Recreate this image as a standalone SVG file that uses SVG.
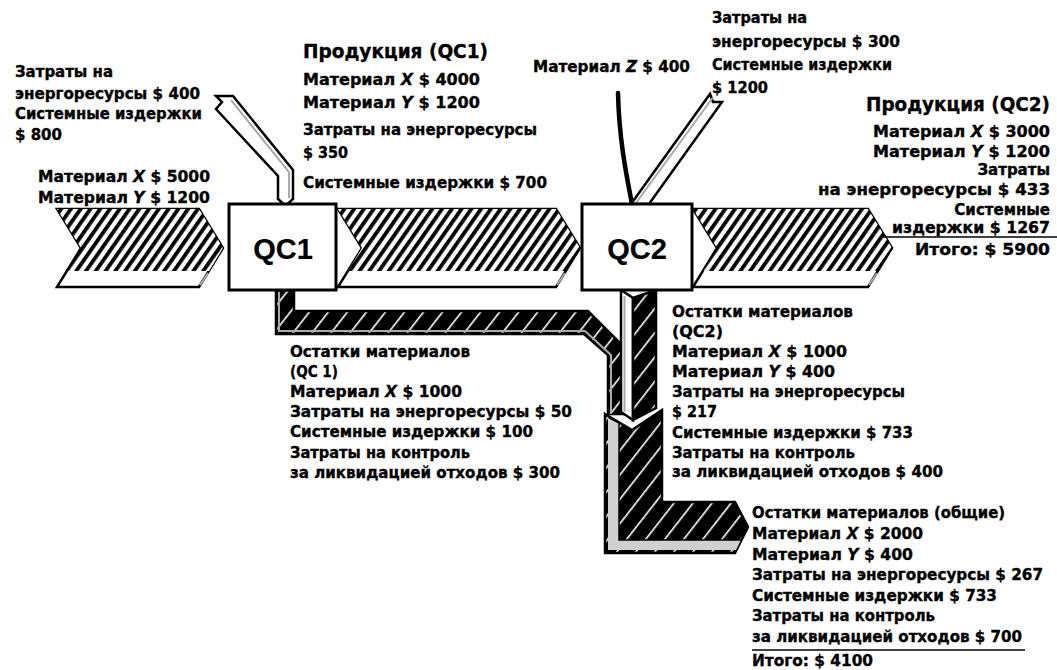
<svg xmlns="http://www.w3.org/2000/svg" width="1057" height="670" viewBox="0 0 1057 670">
<defs>
<pattern id="hatch" width="8" height="8" patternUnits="userSpaceOnUse" patternTransform="rotate(35)">
<rect width="8" height="8" fill="#fff"/>
<rect x="0" y="0" width="3.8" height="8" fill="#000"/>
</pattern>
<pattern id="whatch" width="15" height="15" patternUnits="userSpaceOnUse" patternTransform="rotate(38)">
<rect width="15" height="15" fill="#000"/>
<rect x="0" y="0" width="1.6" height="15" fill="#fff"/>
</pattern>
</defs>
<style>
text{font-family:"DejaVu Sans","Liberation Sans",sans-serif;font-weight:bold;font-size:15px;fill:#000;stroke:#000;stroke-width:0.35}
.h{font-size:19px}
.qc{font-family:"Liberation Sans",Arial,sans-serif;font-size:29px;text-anchor:middle;stroke-width:0.2}
.i{font-style:italic}
.r{text-anchor:end}
.out{fill:#fff;stroke:#000;stroke-width:2.5;stroke-linejoin:miter}
.hz{fill:url(#hatch);stroke:none}
.wb{fill:url(#whatch);stroke:#000;stroke-width:2.5;stroke-linejoin:miter}
.sh{fill:none;stroke:#aaa;stroke-width:2}
.ul{stroke:#000;stroke-width:1.5}
</style>
<rect width="1057" height="670" fill="#fff"/>
<g id="connectors">
<g id="flow-in">
<polygon class="out" points="57,209 199,209 223,248 199,287 57,287 81,248"/>
<polygon class="hz" points="57,209 199,209 223,248 209,271 67,271 81,248"/>
<line class="sh" x1="208" y1="273" x2="200" y2="285"/>
</g>
<g id="flow-mid">
<polygon class="out" points="338,209 556,209 580,248 556,287 338,287 362,248"/>
<polygon class="hz" points="338,209 556,209 580,248 566,271 348,271 362,248"/>
<line class="sh" x1="565" y1="273" x2="557" y2="285"/>
</g>
<g id="flow-out">
<polygon class="out" points="693,209 868,209 892,248 868,287 693,287 717,248"/>
<polygon class="hz" points="693,209 868,209 892,248 878,271 703,271 717,248"/>
<line class="sh" x1="877" y1="273" x2="869" y2="285"/>
</g>
<g id="energy-qc1">
<polygon class="out" points="216,96 233,96 293,170 293,199 285.5,206 278,199 278,176 216,109 222,102"/>
<polyline class="sh" points="231,100 289,172 289,198"/>
</g>
<g id="energy-qc2">
<polygon class="out" points="710,94 713,102 722,102 649,204 631,204"/>
<line class="sh" x1="712.5" y1="98" x2="636" y2="203"/>
</g>
<path id="material-z" d="M618,93 C619,140 627,178 632,204" fill="none" stroke="#000" stroke-width="4.5" stroke-linecap="round"/>
<g id="waste-qc1">
<polygon class="wb" points="276,290 294,290 294,311 588,311 624,347 624,414 608,414 608,355 584,334 276,334"/>
<polyline class="sh" points="279,292 279,331 585,331 611,355 611,414"/>
</g>
<g id="waste-qc2">
<polygon class="out" points="621,290 633,298 633,420 621,412"/>
<line class="sh" x1="624.5" y1="296" x2="624.5" y2="412"/>
<polygon class="wb" points="633,298 656,290 656,408 633,420"/>
</g>
<g id="waste-total">
<polygon class="wb" points="605,414 632,430 662,410 662,502 735,502 748,527 735,553 605,553"/>
<polygon points="608,418 619,424 619,540 741,540 736,550 608,550" fill="#d0d0d0"/>
<polyline points="619,424 619,540 741,540" fill="none" stroke="#000" stroke-width="1.5"/>
</g>
</g>
<g id="QC1">
<rect x="229" y="204" width="107" height="86" fill="#fff" stroke="#000" stroke-width="3"/>
<text class="qc" x="283" y="259">QC1</text>
</g>
<g id="QC2">
<rect x="582" y="204" width="110" height="86" fill="#fff" stroke="#000" stroke-width="3"/>
<text class="qc" x="637" y="259">QC2</text>
</g>
<g id="label-in-energy">
<text x="15" y="77" textLength="98" lengthAdjust="spacingAndGlyphs">Затраты на</text>
<text x="15" y="99" textLength="185" lengthAdjust="spacingAndGlyphs">энергоресурсы $ 400</text>
<text x="15" y="119" textLength="187" lengthAdjust="spacingAndGlyphs">Системные издержки</text>
<text x="15" y="140" textLength="47" lengthAdjust="spacingAndGlyphs">$ 800</text>
</g>
<g id="label-in-material">
<text x="38" y="182" textLength="172" lengthAdjust="spacingAndGlyphs">Материал <tspan class="i">X</tspan> $ 5000</text>
<text x="38" y="203" textLength="172" lengthAdjust="spacingAndGlyphs">Материал <tspan class="i">Y</tspan> $ 1200</text>
</g>
<g id="label-product-qc1">
<text class="h" x="303" y="58" textLength="185" lengthAdjust="spacingAndGlyphs">Продукция (QC1)</text>
<text x="303" y="85" textLength="177" lengthAdjust="spacingAndGlyphs">Материал <tspan class="i">X</tspan> $ 4000</text>
<text x="303" y="108" textLength="177" lengthAdjust="spacingAndGlyphs">Материал <tspan class="i">Y</tspan> $ 1200</text>
<text x="303" y="135" textLength="234" lengthAdjust="spacingAndGlyphs">Затраты на энергоресурсы</text>
<text x="303" y="158" textLength="45" lengthAdjust="spacingAndGlyphs">$ 350</text>
<text x="303" y="188" textLength="244" lengthAdjust="spacingAndGlyphs">Системные издержки $ 700</text>
</g>
<g id="label-material-z">
<text x="533" y="72" textLength="157" lengthAdjust="spacingAndGlyphs">Материал <tspan class="i">Z</tspan> $ 400</text>
</g>
<g id="label-qc2-energy">
<text x="712" y="23" textLength="95" lengthAdjust="spacingAndGlyphs">Затраты на</text>
<text x="712" y="47" textLength="188" lengthAdjust="spacingAndGlyphs">энергоресурсы $ 300</text>
<text x="712" y="70" textLength="180" lengthAdjust="spacingAndGlyphs">Системные издержки</text>
<text x="712" y="93" textLength="56" lengthAdjust="spacingAndGlyphs">$ 1200</text>
</g>
<g id="label-product-qc2">
<text class="h r" x="1050" y="111" textLength="184" lengthAdjust="spacingAndGlyphs">Продукция (QC2)</text>
<text class="r" x="1050" y="137" textLength="177" lengthAdjust="spacingAndGlyphs">Материал <tspan class="i">X</tspan> $ 3000</text>
<text class="r" x="1050" y="157" textLength="177" lengthAdjust="spacingAndGlyphs">Материал <tspan class="i">Y</tspan> $ 1200</text>
<text class="r" x="1050" y="175">Затраты</text>
<text class="r" x="1050" y="195" textLength="232" lengthAdjust="spacingAndGlyphs">на энергоресурсы $ 433</text>
<text class="r" x="1050" y="215">Системные</text>
<text class="r" x="1050" y="233" textLength="158" lengthAdjust="spacingAndGlyphs">издержки $ 1267</text>
<line class="ul" x1="882" y1="237" x2="1057" y2="237"/>
<text class="r" x="1050" y="255" textLength="135" lengthAdjust="spacingAndGlyphs">Итого:  $ 5900</text>
</g>
<g id="label-waste-qc1">
<text x="290" y="357" textLength="180" lengthAdjust="spacingAndGlyphs">Остатки материалов</text>
<text x="290" y="377" textLength="48" lengthAdjust="spacingAndGlyphs">(QC 1)</text>
<text x="290" y="397" textLength="172" lengthAdjust="spacingAndGlyphs">Материал <tspan class="i">X</tspan> $ 1000</text>
<text x="290" y="417" textLength="282" lengthAdjust="spacingAndGlyphs">Затраты на энергоресурсы  $ 50</text>
<text x="290" y="437" textLength="243" lengthAdjust="spacingAndGlyphs">Системные издержки  $ 100</text>
<text x="290" y="458" textLength="180" lengthAdjust="spacingAndGlyphs">Затраты на контроль</text>
<text x="290" y="478" textLength="270" lengthAdjust="spacingAndGlyphs">за ликвидацией отходов  $ 300</text>
</g>
<g id="label-waste-qc2">
<text x="672" y="317" textLength="181" lengthAdjust="spacingAndGlyphs">Остатки материалов</text>
<text x="672" y="337" textLength="51" lengthAdjust="spacingAndGlyphs">(QC2)</text>
<text x="672" y="357" textLength="175" lengthAdjust="spacingAndGlyphs">Материал <tspan class="i">X</tspan> $ 1000</text>
<text x="672" y="377" textLength="163" lengthAdjust="spacingAndGlyphs">Материал <tspan class="i">Y</tspan> $ 400</text>
<text x="672" y="397" textLength="233" lengthAdjust="spacingAndGlyphs">Затраты на энергоресурсы</text>
<text x="672" y="417" textLength="45" lengthAdjust="spacingAndGlyphs">$ 217</text>
<text x="672" y="438" textLength="241" lengthAdjust="spacingAndGlyphs">Системные издержки  $ 733</text>
<text x="672" y="458" textLength="183" lengthAdjust="spacingAndGlyphs">Затраты на контроль</text>
<text x="672" y="477" textLength="271" lengthAdjust="spacingAndGlyphs">за ликвидацией отходов  $ 400</text>
</g>
<g id="label-waste-total">
<text x="752" y="518" textLength="253" lengthAdjust="spacingAndGlyphs">Остатки материалов (общие)</text>
<text x="752" y="539" textLength="171" lengthAdjust="spacingAndGlyphs">Материал <tspan class="i">X</tspan> $ 2000</text>
<text x="752" y="560" textLength="161" lengthAdjust="spacingAndGlyphs">Материал <tspan class="i">Y</tspan> $ 400</text>
<text x="752" y="580" textLength="291" lengthAdjust="spacingAndGlyphs">Затраты на энергоресурсы  $ 267</text>
<text x="752" y="601" textLength="245" lengthAdjust="spacingAndGlyphs">Системные издержки  $ 733</text>
<text x="752" y="621" textLength="183" lengthAdjust="spacingAndGlyphs">Затраты на контроль</text>
<text x="752" y="642" textLength="270" lengthAdjust="spacingAndGlyphs">за ликвидацией отходов  $ 700</text>
<line class="ul" x1="752" y1="650" x2="1025" y2="650"/>
<text x="752" y="666" textLength="121" lengthAdjust="spacingAndGlyphs">Итого:  $ 4100</text>
</g>
</svg>
